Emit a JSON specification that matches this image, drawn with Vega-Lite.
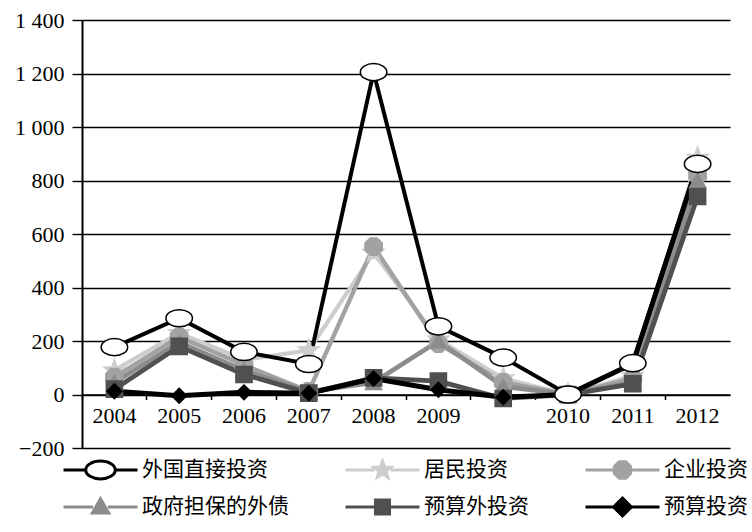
{
  "$schema": "https://vega.github.io/schema/vega-lite/v6.json",
  "width": 648,
  "height": 428,
  "autosize": {"type": "none"},
  "padding": {"left": 82, "top": 20, "right": 22, "bottom": 84},
  "background": "white",
  "config": {
    "view": {"stroke": null},
    "axis": {"labelFont": "Liberation Serif", "labelFontSize": 22, "labelColor": "black", "titleFont": "Liberation Serif"}
  },
  "data": {
    "values": [
      {"series": "居民投资", "year": "2004", "value": 90},
      {"series": "居民投资", "year": "2005", "value": 230},
      {"series": "居民投资", "year": "2006", "value": 130},
      {"series": "居民投资", "year": "2007", "value": 165},
      {"series": "居民投资", "year": "2008", "value": 530},
      {"series": "居民投资", "year": "2009", "value": 205},
      {"series": "居民投资", "year": "2009b", "value": 60},
      {"series": "居民投资", "year": "2010", "value": 0},
      {"series": "居民投资", "year": "2011", "value": 70},
      {"series": "居民投资", "year": "2012", "value": 885},
      {"series": "企业投资", "year": "2004", "value": 65},
      {"series": "企业投资", "year": "2005", "value": 215},
      {"series": "企业投资", "year": "2006", "value": 110},
      {"series": "企业投资", "year": "2007", "value": 12},
      {"series": "企业投资", "year": "2008", "value": 553},
      {"series": "企业投资", "year": "2009", "value": 190},
      {"series": "企业投资", "year": "2009b", "value": 45},
      {"series": "企业投资", "year": "2010", "value": 0},
      {"series": "企业投资", "year": "2011", "value": 60},
      {"series": "企业投资", "year": "2012", "value": 820},
      {"series": "政府担保的外债", "year": "2004", "value": 45},
      {"series": "政府担保的外债", "year": "2005", "value": 195},
      {"series": "政府担保的外债", "year": "2006", "value": 90},
      {"series": "政府担保的外债", "year": "2007", "value": 10},
      {"series": "政府担保的外债", "year": "2008", "value": 45},
      {"series": "政府担保的外债", "year": "2009", "value": 200},
      {"series": "政府担保的外债", "year": "2009b", "value": 30},
      {"series": "政府担保的外债", "year": "2010", "value": 0},
      {"series": "政府担保的外债", "year": "2011", "value": 45},
      {"series": "政府担保的外债", "year": "2012", "value": 800},
      {"series": "预算外投资", "year": "2004", "value": 20},
      {"series": "预算外投资", "year": "2005", "value": 180},
      {"series": "预算外投资", "year": "2006", "value": 75},
      {"series": "预算外投资", "year": "2007", "value": 5},
      {"series": "预算外投资", "year": "2008", "value": 62},
      {"series": "预算外投资", "year": "2009", "value": 50},
      {"series": "预算外投资", "year": "2009b", "value": -15},
      {"series": "预算外投资", "year": "2010", "value": 0},
      {"series": "预算外投资", "year": "2011", "value": 40},
      {"series": "预算外投资", "year": "2012", "value": 740},
      {"series": "预算投资", "year": "2004", "value": 12},
      {"series": "预算投资", "year": "2005", "value": -5},
      {"series": "预算投资", "year": "2006", "value": 8},
      {"series": "预算投资", "year": "2007", "value": 5},
      {"series": "预算投资", "year": "2008", "value": 60},
      {"series": "预算投资", "year": "2009", "value": 18},
      {"series": "预算投资", "year": "2009b", "value": -10},
      {"series": "预算投资", "year": "2010", "value": 0},
      {"series": "预算投资", "year": "2011", "value": 115},
      {"series": "预算投资", "year": "2012", "value": 858},
      {"series": "外国直接投资", "year": "2004", "value": 177},
      {"series": "外国直接投资", "year": "2005", "value": 285},
      {"series": "外国直接投资", "year": "2006", "value": 159},
      {"series": "外国直接投资", "year": "2007", "value": 114},
      {"series": "外国直接投资", "year": "2008", "value": 1205},
      {"series": "外国直接投资", "year": "2009", "value": 255},
      {"series": "外国直接投资", "year": "2009b", "value": 138},
      {"series": "外国直接投资", "year": "2010", "value": 0},
      {"series": "外国直接投资", "year": "2011", "value": 117},
      {"series": "外国直接投资", "year": "2012", "value": 862}
    ]
  },
  "encoding": {
    "x": {
      "field": "year", "type": "nominal",
      "scale": {"type": "band", "domain": ["2004","2005","2006","2007","2008","2009","2009b","2010","2011","2012"], "paddingInner": 0, "paddingOuter": 0},
      "axis": {
        "title": null, "orient": "bottom", "offset": -53.5, "labelAngle": 0,
        "labelExpr": "datum.value == '2009b' ? '' : datum.value",
        "bandPosition": 0, "tickSize": 5, "tickColor": "black", "tickWidth": 1.5,
        "domainColor": "black", "domainWidth": 1.5, "labelPadding": 6, "grid": false
      }
    },
    "y": {
      "field": "value", "type": "quantitative",
      "scale": {"domain": [-200, 1400], "nice": false, "zero": false},
      "axis": {
        "title": null, "values": [-200,0,200,400,600,800,1000,1200,1400],
        "labelExpr": "replace(format(datum.value, ',d'), ',', ' ')",
        "grid": true, "gridColor": "black", "gridWidth": 1.4, "gridOpacity": 1,
        "tickSize": 10, "tickColor": "black", "tickWidth": 1.4,
        "domainColor": "black", "domainWidth": 2, "labelPadding": 8
      }
    }
  },
  "layer": [
    {
      "mark": {"type": "line", "strokeJoin": "miter", "opacity": 1},
      "encoding": {
        "color": {
          "field": "series", "type": "nominal", "legend": null,
          "scale": {"domain": ["外国直接投资","居民投资","企业投资","政府担保的外债","预算外投资","预算投资"], "range": ["#000000","#cdcdcd","#a2a2a2","#8c8c8c","#505050","#000000"]}
        },
        "strokeWidth": {
          "field": "series", "type": "nominal", "legend": null,
          "scale": {"domain": ["外国直接投资","居民投资","企业投资","政府担保的外债","预算外投资","预算投资"], "range": [4, 5, 6, 4, 5, 3.5]}
        }
      }
    },
    {
      "transform": [{"filter": "datum.series == '居民投资'"}],
      "mark": {"type": "point", "filled": true, "opacity": 1, "strokeWidth": 1.5, "size": 480, "fill": "#cdcdcd", "stroke": "#cdcdcd",
        "shape": "M0,-1L0.235,-0.324L0.951,-0.309L0.380,0.124L0.588,0.809L0,0.4L-0.588,0.809L-0.380,0.124L-0.951,-0.309L-0.235,-0.324Z"}
    },
    {
      "transform": [{"filter": "datum.series == '企业投资'"}],
      "mark": {"type": "point", "filled": true, "opacity": 1, "strokeWidth": 1.5, "size": 300, "fill": "#a2a2a2", "stroke": "#a2a2a2",
        "shape": "M-0.4,-1L0.4,-1L1,-0.4L1,0.4L0.4,1L-0.4,1L-1,0.4L-1,-0.4Z"}
    },
    {
      "transform": [{"filter": "datum.series == '政府担保的外债'"}],
      "mark": {"type": "point", "filled": true, "opacity": 1, "strokeWidth": 1.5, "size": 260, "fill": "#8c8c8c", "stroke": "#8c8c8c", "shape": "triangle-up"}
    },
    {
      "transform": [{"filter": "datum.series == '预算外投资'"}],
      "mark": {"type": "point", "filled": true, "opacity": 1, "strokeWidth": 1.5, "size": 260, "fill": "#505050", "stroke": "#505050", "shape": "square"}
    },
    {
      "transform": [{"filter": "datum.series == '预算投资'"}],
      "mark": {"type": "point", "filled": true, "opacity": 1, "strokeWidth": 1.5, "size": 220, "fill": "#000000", "stroke": "#000000", "shape": "diamond"}
    },
    {
      "transform": [{"filter": "datum.series == '外国直接投资'"}],
      "mark": {"type": "point", "filled": true, "opacity": 1, "strokeWidth": 1.5, "size": 700, "fill": "#ffffff", "stroke": "#000000",
        "shape": "M-1,0A1,0.65 0 1,0 1,0A1,0.65 0 1,0 -1,0Z"}
    },
    {
      "mark": {"type": "point", "filled": true, "opacity": 0},
      "encoding": {
        "shape": {
          "field": "series", "type": "nominal",
          "scale": {"domain": ["外国直接投资","政府担保的外债","居民投资","预算外投资","企业投资","预算投资"],
            "range": [
              "M-1,0L-0.4,0M0.4,0L1,0M-0.4,0A0.4,0.24 0 1,0 0.4,0A0.4,0.24 0 1,0 -0.4,0Z",
              "M-1,0L-0.2,0M0.2,0L1,0M0,-0.22L0.22,0.16L-0.22,0.16Z",
              "M-1,0L-0.22,0M0.22,0L1,0M0,-0.24L0.059,-0.081L0.228,-0.074L0.095,0.031L0.141,0.194L0,0.1L-0.141,0.194L-0.095,0.031L-0.228,-0.074L-0.059,-0.081Z",
              "M-1,0L-0.19,0M0.19,0L1,0M-0.19,-0.19L0.19,-0.19L0.19,0.19L-0.19,0.19Z",
              "M-1,0L-0.22,0M0.22,0L1,0M-0.09,-0.22L0.09,-0.22L0.22,-0.09L0.22,0.09L0.09,0.22L-0.09,0.22L-0.22,0.09L-0.22,-0.09Z",
              "M-1,0L-0.24,0M0.24,0L1,0M0,-0.24L0.24,0L0,0.24L-0.24,0Z"]},
          "legend": {
            "title": null, "orient": "none", "legendX": -20, "legendY": 438, "columns": 3,
            "symbolSize": 5476, "clipHeight": 24, "rowPadding": 13, "columnPadding": 55,
            "labelOffset": 3, "labelFont": "Noto Sans CJK SC", "labelFontSize": 21, "labelColor": "black",
            "labelLimit": 400, "symbolStrokeWidth": 3, "symbolOpacity": 1, "padding": 0
          }
        },
        "fill": {
          "field": "series", "type": "nominal",
          "scale": {"domain": ["外国直接投资","政府担保的外债","居民投资","预算外投资","企业投资","预算投资"], "range": ["#ffffff","#8c8c8c","#cdcdcd","#505050","#a2a2a2","#000000"]},
          "legend": {
            "title": null, "orient": "none", "legendX": -20, "legendY": 438, "columns": 3,
            "symbolSize": 5476, "clipHeight": 24, "rowPadding": 13, "columnPadding": 55,
            "labelOffset": 3, "labelFont": "Noto Sans CJK SC", "labelFontSize": 21, "labelColor": "black",
            "labelLimit": 400, "symbolStrokeWidth": 3, "symbolOpacity": 1, "padding": 0
          }
        },
        "stroke": {
          "field": "series", "type": "nominal",
          "scale": {"domain": ["外国直接投资","政府担保的外债","居民投资","预算外投资","企业投资","预算投资"], "range": ["#000000","#8c8c8c","#cdcdcd","#505050","#a2a2a2","#000000"]},
          "legend": {
            "title": null, "orient": "none", "legendX": -20, "legendY": 438, "columns": 3,
            "symbolSize": 5476, "clipHeight": 24, "rowPadding": 13, "columnPadding": 55,
            "labelOffset": 3, "labelFont": "Noto Sans CJK SC", "labelFontSize": 21, "labelColor": "black",
            "labelLimit": 400, "symbolStrokeWidth": 3, "symbolOpacity": 1, "padding": 0
          }
        }
      }
    }
  ]
}
